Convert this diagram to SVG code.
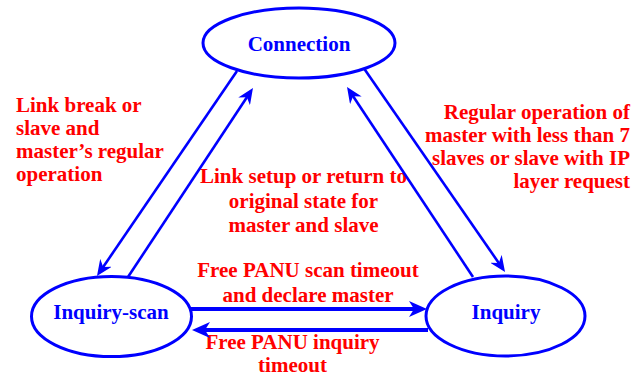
<svg xmlns="http://www.w3.org/2000/svg" width="641" height="377" viewBox="0 0 641 377">
  <g id="labels" font-size="21" fill="#ff0000">
    <text x="16" y="112" style="font-family: 'Liberation Serif'; font-weight: bold">Link break or</text>
    <text x="16" y="135" style="font-family: 'Liberation Serif'; font-weight: bold">slave and</text>
    <text x="16" y="158" style="font-family: 'Liberation Serif'; font-weight: bold">master’s regular</text>
    <text x="16" y="181" style="font-family: 'Liberation Serif'; font-weight: bold">operation</text>

    <text x="630" y="119" text-anchor="end" style="font-family: 'Liberation Serif'; font-weight: bold">Regular operation of</text>
    <text x="630" y="142" text-anchor="end" style="font-family: 'Liberation Serif'; font-weight: bold">master with less than 7</text>
    <text x="630" y="165" text-anchor="end" style="font-family: 'Liberation Serif'; font-weight: bold">slaves or slave with IP</text>
    <text x="630" y="188" text-anchor="end" style="font-family: 'Liberation Serif'; font-weight: bold">layer request</text>

    <text x="303.5" y="183" text-anchor="middle" style="font-family: 'Liberation Serif'; font-weight: bold">Link setup or return to</text>
    <text x="303.5" y="208" text-anchor="middle" style="font-family: 'Liberation Serif'; font-weight: bold">original state for</text>
    <text x="303.5" y="232" text-anchor="middle" style="font-family: 'Liberation Serif'; font-weight: bold">master and slave</text>

    <text x="308" y="277" text-anchor="middle" style="font-family: 'Liberation Serif'; font-weight: bold">Free PANU scan timeout</text>
    <text x="308" y="302" text-anchor="middle" style="font-family: 'Liberation Serif'; font-weight: bold">and declare master</text>

    <text x="292.5" y="349" text-anchor="middle" style="font-family: 'Liberation Serif'; font-weight: bold">Free PANU inquiry</text>
    <text x="292.5" y="372" text-anchor="middle" style="font-family: 'Liberation Serif'; font-weight: bold">timeout</text>
  </g>

  <defs>
    <!-- barbed arrowhead; tip sits 5px beyond the line end -->
    <marker id="head" markerUnits="userSpaceOnUse" viewBox="0 0 16 14" refX="11" refY="7" markerWidth="16" markerHeight="14" orient="auto">
      <path d="M0,0 L16,7 L0,14 L5,7 z" fill="#0000ff"/>
    </marker>
    <marker id="headWide" markerUnits="userSpaceOnUse" viewBox="0 0 18 16" refX="13" refY="8" markerWidth="18" markerHeight="16" orient="auto">
      <path d="M0,0 L18,8 L0,16 L5,8 z" fill="#0000ff"/>
    </marker>
  </defs>

  <g id="connectors" stroke="#0000ff" fill="none">
    <g stroke-width="2.6" marker-end="url(#head)">
      <!-- Connection -> Inquiry-scan -->
      <line x1="237" y1="71" x2="99.8" y2="271.9"/>
      <!-- Inquiry-scan -> Connection -->
      <line x1="128" y1="277" x2="250.2" y2="92.2"/>
      <!-- Connection -> Inquiry -->
      <line x1="363" y1="67" x2="502.2" y2="267.9"/>
      <!-- Inquiry -> Connection -->
      <line x1="473" y1="277" x2="349.8" y2="91.2"/>
    </g>
    <g stroke-width="4" marker-end="url(#headWide)">
      <!-- Inquiry-scan -> Inquiry -->
      <line x1="190" y1="309" x2="422" y2="309"/>
      <!-- Inquiry -> Inquiry-scan -->
      <line x1="428" y1="330" x2="197" y2="330"/>
    </g>
  </g>

  <g font-size="21" text-anchor="middle" fill="#0000ff">
    <g id="node-connection">
      <ellipse cx="299" cy="43" rx="96" ry="35" fill="#ffffff" stroke="#0000ff" stroke-width="3"/>
      <text x="299" y="51" style="font-family: 'Liberation Serif'; font-weight: bold">Connection</text>
    </g>

    <g id="node-inquiry-scan">
      <ellipse cx="111.5" cy="316.5" rx="80" ry="40" fill="#ffffff" stroke="#0000ff" stroke-width="3"/>
      <text x="111" y="319" style="font-family: 'Liberation Serif'; font-weight: bold">Inquiry-scan</text>
    </g>

    <g id="node-inquiry">
      <ellipse cx="505.5" cy="316" rx="79.5" ry="40" fill="#ffffff" stroke="#0000ff" stroke-width="3"/>
      <text x="506" y="319" style="font-family: 'Liberation Serif'; font-weight: bold">Inquiry</text>
    </g>
  </g>
</svg>
